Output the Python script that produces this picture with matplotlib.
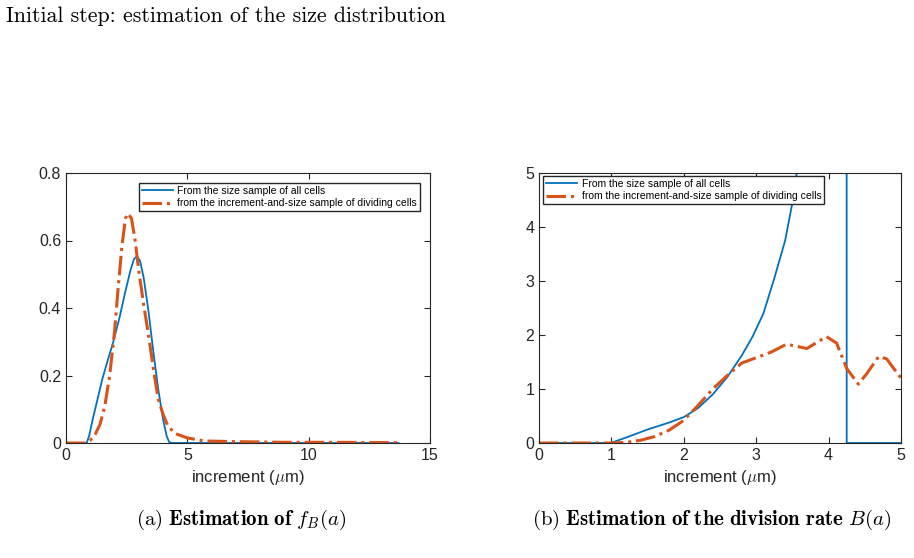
import numpy as np
import matplotlib.pyplot as plt

plt.rcParams['font.family'] = ['Liberation Sans', 'DejaVu Sans']
plt.rcParams['mathtext.fontset'] = 'cm'

# panel (a): density of the increment
fa_x_all = [0, 0.85, 0.95, 1.1, 1.3, 1.5, 1.7, 1.95, 2.2, 2.45, 2.65, 2.8, 2.92, 3.05, 3.2, 3.4, 3.6, 3.8, 4.0, 4.15, 4.25, 4.35, 13.7]
fa_y_all = [0, 0, 0.02, 0.07, 0.13, 0.19, 0.24, 0.3, 0.37, 0.45, 0.51, 0.545, 0.553, 0.54, 0.49, 0.39, 0.27, 0.16, 0.07, 0.02, 0.003, 0, 0]
fa_x_div = [0, 0.8, 1.0, 1.2, 1.4, 1.6, 1.8, 2.0, 2.15, 2.3, 2.45, 2.55, 2.7, 2.85, 3.0, 3.2, 3.4, 3.6, 3.8, 4.0, 4.2, 4.5, 5.0, 5.7, 7.0, 9.0, 11.0, 13.7]
fa_y_div = [0, 0, 0.008, 0.025, 0.055, 0.11, 0.2, 0.33, 0.46, 0.58, 0.665, 0.68, 0.665, 0.6, 0.51, 0.41, 0.32, 0.22, 0.13, 0.085, 0.05, 0.028, 0.015, 0.006, 0.004, 0.002, 0.002, 0.001]

# panel (b): division rate
b_x_all = [0, 0.99, 1.2, 1.5, 1.8, 2.0, 2.2, 2.4, 2.6, 2.8, 2.95, 3.1, 3.25, 3.4, 3.5, 3.56, 3.7, 4.0, 4.24, 4.25, 5.0]
b_y_all = [0, 0, 0.1, 0.25, 0.38, 0.48, 0.65, 0.9, 1.22, 1.62, 1.97, 2.4, 3.05, 3.75, 4.45, 5.0, 7.0, 20.0, 100.0, 0, 0]
b_x_div = [0, 1.0, 1.2, 1.4, 1.6, 1.8, 2.0, 2.2, 2.4, 2.6, 2.8, 3.0, 3.2, 3.42, 3.7, 3.97, 4.11, 4.25, 4.41, 4.53, 4.69, 4.8, 5.0]
b_y_div = [0, 0, 0.01, 0.05, 0.12, 0.24, 0.42, 0.7, 1.0, 1.25, 1.48, 1.58, 1.68, 1.83, 1.75, 1.97, 1.85, 1.38, 1.09, 1.29, 1.6, 1.56, 1.2]

blue = '#0072BD'
orange = '#D95319'
labels = ['From the size sample of all cells',
          'from the increment-and-size sample of dividing cells']

fig = plt.figure(figsize=(9.14, 5.58), dpi=100)
ax1 = fig.add_axes([66/914, 1 - 443/558, 364/914, 270/558])
ax2 = fig.add_axes([539/914, 1 - 443/558, 362/914, 270/558])

def style(ax):
    ax.tick_params(direction='in', top=True, right=True, labelsize=11.5,
                   color='0.15', labelcolor='0.15', length=4)
    for s in ax.spines.values():
        s.set_color('0.15')
        s.set_linewidth(0.8)
    ax.set_xlabel(r'increment ($\mu$m)', fontsize=12, color='0.15')

ax1.plot(fa_x_all, fa_y_all, color=blue, lw=1.3, label=labels[0])
ax1.plot(fa_x_div, fa_y_div, color=orange, lw=2.2, ls='-.', label=labels[1])
ax1.set_xlim(0, 15)
ax1.set_ylim(0, 0.8)
ax1.set_xticks([0, 5, 10, 15])
ax1.set_yticks([0, 0.2, 0.4, 0.6, 0.8])
ax1.set_yticklabels(['0', '0.2', '0.4', '0.6', '0.8'])
style(ax1)
ax1.legend(loc='upper right', bbox_to_anchor=(0.973, 0.963), borderaxespad=0,
           fontsize=7.5, fancybox=False, edgecolor='0.15', framealpha=1,
           handlelength=3, borderpad=0.3, labelspacing=0.2, handletextpad=0.4)

ax2.plot(b_x_all, b_y_all, color=blue, lw=1.3, label=labels[0])
ax2.plot(b_x_div, b_y_div, color=orange, lw=2.2, ls='-.', label=labels[1])
ax2.set_xlim(0, 5)
ax2.set_ylim(0, 5)
ax2.set_xticks([0, 1, 2, 3, 4, 5])
ax2.set_yticks([0, 1, 2, 3, 4, 5])
style(ax2)
ax2.legend(loc='upper left', bbox_to_anchor=(0.011, 0.989), borderaxespad=0,
           fontsize=7.5, fancybox=False, edgecolor='0.15', framealpha=1,
           handlelength=3, borderpad=0.3, labelspacing=0.2, handletextpad=0.4)

fig.text(6/914, 1 - 16/558, 'Initial step: estimation of the size distribution',
         family='cmr10', fontsize=15.8, va='center', ha='left')
fig.text(241/914, 1 - 520/558, r'$\mathrm{(a)}\ \mathbf{Estimation\ of}\ f_B(a)$',
         fontsize=15, ha='center', va='center')
fig.text(712/914, 1 - 520/558, r'$\mathrm{(b)}\ \mathbf{Estimation\ of\ the\ division\ rate}\ B(a)$',
         fontsize=15, ha='center', va='center')

fig.savefig('out.png', dpi=100)
